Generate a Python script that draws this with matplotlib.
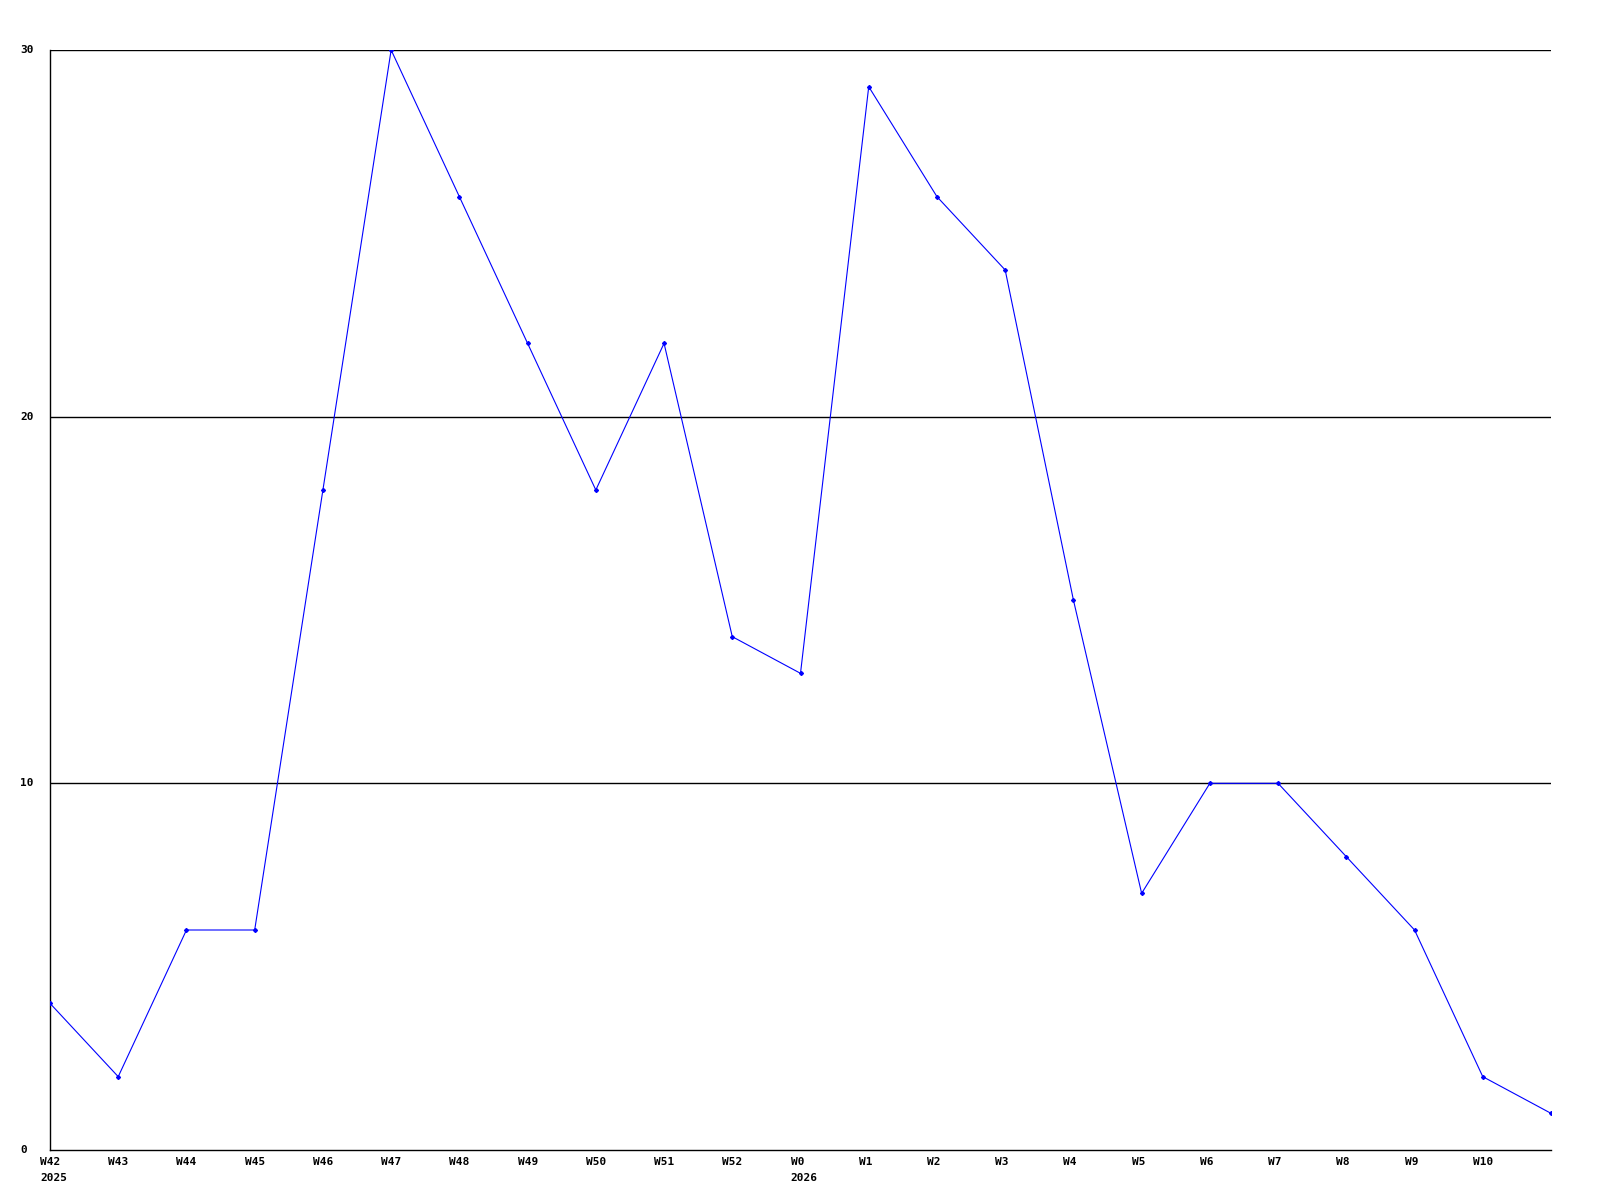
import matplotlib
matplotlib.use("Agg")
import matplotlib.pyplot as plt
from matplotlib.transforms import ScaledTranslation

weeks = ["W42", "W43", "W44", "W45", "W46", "W47", "W48", "W49", "W50", "W51", "W52",
         "W0", "W1", "W2", "W3", "W4", "W5", "W6", "W7", "W8", "W9", "W10", "W11"]
values = [4, 2, 6, 6, 18, 30, 26, 22, 18, 22, 14, 13, 29, 26, 24, 15, 7, 10, 10, 8, 6, 2, 1]
year_labels = {"W42": "2025", "W0": "2026"}
y_ticks = [0, 10, 20, 30]

W, H = 1600, 1200
fig = plt.figure(figsize=(16, 12), dpi=100)
fig.patch.set_facecolor("white")
ax = fig.add_axes([50 / W, 50 / H, 1501 / W, 1100 / H])
x = list(range(len(weeks)))
ax.plot(x, values, color="#0000ff", linewidth=0.8, marker="D", markersize=2.0,
        markerfacecolor="#0000ff", markeredgecolor="#0000ff", zorder=3)
ax.set_xlim(0, len(weeks) - 1)
ax.set_ylim(0, 30)

for s in ["top", "right"]:
    ax.spines[s].set_visible(False)
for s in ["left", "bottom"]:
    ax.spines[s].set_color("black")
    ax.spines[s].set_linewidth(1.0)

for yv in y_ticks[1:]:
    ax.axhline(yv, color="black", linewidth=1.0, zorder=1)

ax.set_xticks([])
ax.set_yticks([])

font = dict(family="DejaVu Sans Mono", fontweight="bold", fontsize=8, color="black")
for yv in y_ticks:
    tr = ax.get_yaxis_transform() + ScaledTranslation(-30 / 100, 0, fig.dpi_scale_trans)
    ax.text(0, yv, str(yv), transform=tr, ha="left", va="center", **font)

label_offset = ScaledTranslation(-10 / 100, 0, fig.dpi_scale_trans)
for i, w in enumerate(weeks[:-1]):
    tr = ax.get_xaxis_transform() + label_offset
    ax.text(i, 0, w, transform=tr + ScaledTranslation(0, -7 / 100, fig.dpi_scale_trans),
            ha="left", va="top", **font)
    if w in year_labels:
        ax.text(i, 0, year_labels[w], transform=tr + ScaledTranslation(0, -23 / 100, fig.dpi_scale_trans),
                ha="left", va="top", **font)

fig.savefig("out.png", dpi=100, facecolor="white")
